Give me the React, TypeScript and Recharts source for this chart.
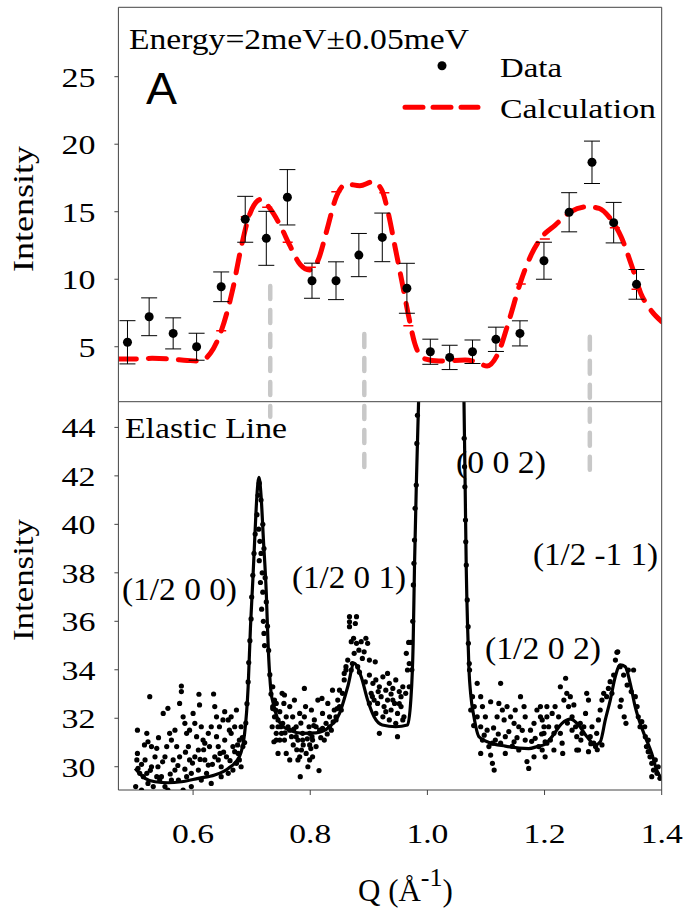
import React from "react";
import { ComposedChart, Line, Scatter, XAxis, YAxis, ErrorBar, ReferenceLine } from "recharts";

const W = 688;
const H = 908;
const PLOT_L = 118.4;
const PLOT_R = 661.7;
const TOP_Y = 7.3;
const SPLIT_Y = 401.7;
const BOT_Y = 790;
const SERIF = '"Liberation Serif", "Times New Roman", Times, serif';
const SANS = '"Liberation Sans", Arial, sans-serif';
const AXIS = "#444";

// axes
const qDomain = [0.4725, 1.4];
const qTicks = [0.6, 0.8, 1.0, 1.2, 1.4];
const topDomain = [0.93, 30.14];
const topTicks = [5, 10, 15, 20, 25];
const bottomDomain = [29.04, 45.06];
const bottomTicks = [30, 32, 34, 36, 38, 40, 42, 44];

// panel A: 2 meV cut, measured points
const cutQ = [0.488, 0.525, 0.566, 0.606, 0.648, 0.689, 0.725, 0.761, 0.803, 0.844, 0.883, 0.923, 0.965,
  1.005, 1.038, 1.077, 1.117, 1.158, 1.199, 1.242, 1.281, 1.318, 1.357];
const cutI = [5.33, 7.22, 5.99, 5.0, 9.44, 14.44, 13.03, 16.07, 9.89, 9.89, 11.79, 13.1, 9.33,
  4.63, 4.21, 4.63, 5.55, 5.99, 11.37, 14.96, 18.66, 14.19, 9.62];
const cutErr = [1.6, 1.4, 1.15, 1.0, 1.1, 1.7, 2.0, 2.05, 1.3, 1.4, 1.6, 1.8, 1.85,
  0.93, 0.9, 0.87, 0.9, 0.93, 1.37, 1.45, 1.57, 1.5, 1.1];

// panel A: calculation
const calcQ = [0.4725, 0.5, 0.53, 0.56, 0.59, 0.61, 0.6295, 0.6486, 0.6674, 0.6823, 0.6973, 0.716, 0.731,
  0.7497, 0.7647, 0.7834, 0.7985, 0.8135, 0.8285, 0.8435, 0.8622, 0.8847, 0.9072, 0.9222, 0.9333,
  0.9447, 0.956, 0.967, 0.9784, 0.9934, 1.0197, 1.0646, 1.0833, 1.102, 1.1207, 1.1396, 1.1583,
  1.177, 1.1958, 1.2182, 1.2445, 1.2745, 1.2932, 1.312, 1.3307, 1.3494, 1.3644, 1.3794, 1.4];
const calcI = [4.1, 4.09, 4.14, 4.09, 3.99, 3.94, 4.51, 6.24, 9.2, 12.41, 14.88, 15.92, 15.25,
  13.9, 12.54, 11.06, 10.68, 11.42, 13.65, 15.99, 17.05, 16.93, 17.22, 16.6, 14.88,
  12.41, 9.94, 7.47, 5.25, 4.14, 3.94, 4.01, 3.89, 3.57, 4.51, 6.98, 9.69,
  11.79, 13.14, 14.01, 15.0, 15.37, 15.25, 14.51, 13.14, 10.92, 8.95, 7.84, 6.85];
const calcMarkQ = [0.648, 0.69, 0.7265, 0.7615, 0.801, 0.8445, 0.9265, 0.9675, 1.1594, 1.2005, 1.32, 1.357];
const calcMarkI = [6.19, 14.63, 15.33, 12.73, 10.88, 16.48, 16.41, 6.56, 9.64, 12.98, 13.81, 9.25];

// Bragg positions (gray dashes), extent in panel-A units
const peakQ = [0.7317, 0.8923, 1.2773];
const peakTop = [9.5, 5.94, 5.74];
const peakBottom = [-0.19, -4.0, -4.19];

// elastic line fit
const fitQ = [0.501, 0.518, 0.535, 0.557, 0.58, 0.609, 0.637, 0.66, 0.679, 0.688, 0.694, 0.698, 0.702,
  0.706, 0.709, 0.7125, 0.716, 0.72, 0.725, 0.728, 0.733, 0.737, 0.744, 0.752, 0.765, 0.787, 0.81,
  0.833, 0.85, 0.864, 0.875, 0.887, 0.898, 0.909, 0.923, 0.946, 0.966, 0.9717, 0.9757, 0.978,
  0.9815, 0.985, 0.995, 1.024, 1.053, 1.0625, 1.0645, 1.0664, 1.069, 1.071, 1.0738, 1.0795, 1.088,
  1.105, 1.133, 1.173, 1.19, 1.1986, 1.2128, 1.2298, 1.2441, 1.2582, 1.2724, 1.2866, 1.2951, 1.3037,
  1.3122, 1.3207, 1.3292, 1.3377, 1.3462, 1.3547, 1.3632, 1.3717, 1.383, 1.3915, 1.3973];
const fitI = [29.93, 29.52, 29.38, 29.34, 29.38, 29.52, 29.66, 29.93, 30.41, 31.38, 33.3, 35.78, 37.7,
  39.8, 41.2, 41.94, 41.2, 39.4, 37.15, 35.09, 33.1, 32.6, 32.0, 31.7, 31.5, 31.38, 31.4,
  31.65, 32.2, 33.3, 34.27, 33.71, 32.75, 32.06, 31.72, 31.65, 31.72, 32.75, 35.09, 38.3,
  42.0, 45.1, 55, 66, 55, 45.0, 41.5, 38.1, 35.5, 34.0, 33.03, 32.06, 31.24,
  31.0, 30.85, 30.75, 30.85, 30.9, 31.24, 31.79, 31.96, 31.72, 31.24, 30.9, 31.03, 31.93,
  32.75, 33.71, 34.2, 34.13, 33.44, 32.48, 31.79, 31.24, 30.55, 29.86, 29.59];

// elastic line data points [Q, I]
const elasticLow = [
  [0.505, 31.51], [0.526, 32.89], [0.505, 30.55], [0.504, 30.28], [0.509, 29.73], [0.502, 29.18], [0.515, 29.59],
  [0.521, 31.38], [0.523, 31.03], [0.518, 30.28], [0.529, 30.0], [0.535, 30.41], [0.538, 30.76], [0.54, 30.0],
  [0.546, 29.59], [0.552, 29.18], [0.549, 32.2], [0.557, 32.41], [0.56, 31.38], [0.563, 31.1], [0.566, 30.28],
  [0.569, 29.86], [0.575, 29.45], [0.577, 32.61], [0.58, 33.33], [0.58, 33.1], [0.583, 32.06], [0.586, 31.79],
  [0.589, 31.38], [0.592, 30.83], [0.594, 30.28], [0.597, 29.73], [0.6, 32.2], [0.603, 31.79], [0.606, 31.24],
  [0.609, 30.69], [0.611, 32.55], [0.61, 32.99], [0.614, 31.65], [0.617, 31.1], [0.62, 30.28], [0.623, 29.73],
  [0.626, 31.38], [0.628, 30.83], [0.631, 31.65], [0.635, 33.0], [0.637, 32.48], [0.637, 30.41], [0.64, 31.24],
  [0.643, 30.83], [0.645, 31.65], [0.648, 30.0], [0.651, 31.93], [0.654, 31.1], [0.66, 31.93], [0.662, 31.51],
  [0.665, 32.06], [0.668, 30.83], [0.671, 31.65], [0.674, 30.14], [0.677, 30.55], [0.679, 31.1], [0.682, 30.0],
  [0.685, 30.83], [0.552, 30.41], [0.543, 29.45], [0.532, 29.18], [0.555, 30.83], [0.572, 30.83], [0.523, 29.31],
  [0.512, 29.04], [0.557, 29.04], [0.583, 29.04], [0.597, 29.18], [0.614, 29.45], [0.631, 29.31], [0.648, 29.59],
  [0.66, 29.73], [0.668, 29.86], [0.506, 29.93], [0.521, 29.73], [0.538, 29.59], [0.563, 29.45], [0.589, 29.59],
  [0.609, 29.86], [0.626, 30.07], [0.643, 30.28], [0.657, 30.41], [0.671, 30.62], [0.679, 30.28], [0.62, 30.97],
  [0.603, 30.41], [0.577, 30.41], [0.529, 30.83], [0.569, 31.51], [0.594, 31.51], [0.64, 32.06], [0.654, 32.27],
  [0.665, 31.38], [0.674, 32.34], [0.682, 31.65], [0.512, 30.1], [0.527, 29.85], [0.548, 30.2], [0.561, 29.7],
  [0.574, 30.05], [0.586, 29.9], [0.599, 30.15], [0.612, 30.3], [0.633, 30.1], [0.652, 30.6], [0.663, 30.25],
  [0.676, 30.9], [0.684, 31.2], [0.517, 30.9], [0.541, 31.2], [0.587, 30.6], [0.618, 30.7], [0.646, 30.55],
];
const elasticPeak1 = [
  [0.688, 31.0], [0.69, 31.8], [0.692, 32.6], [0.694, 33.5], [0.695, 34.3], [0.697, 35.2], [0.699, 36.1],
  [0.7, 37.0], [0.702, 37.9], [0.704, 38.8], [0.706, 39.6], [0.709, 40.4], [0.711, 41.2], [0.713, 41.7],
  [0.712, 39.8], [0.714, 39.3], [0.716, 38.8], [0.713, 38.5], [0.718, 38.0], [0.715, 37.6], [0.719, 37.2],
  [0.717, 36.5], [0.72, 36.0], [0.721, 35.5], [0.722, 35.0], [0.716, 41.0], [0.719, 40.0], [0.721, 39.0],
  [0.723, 37.8], [0.725, 36.8], [0.727, 35.8], [0.729, 34.8], [0.731, 33.8], [0.733, 33.0], [0.736, 32.4],
  [0.736, 33.3], [0.739, 32.75], [0.741, 32.34], [0.745, 31.93], [0.742, 31.38], [0.75, 31.65], [0.752, 33.03],
  [0.755, 32.61], [0.738, 31.03], [0.748, 31.1],
];
const elasticMid = [
  [0.736, 32.48], [0.739, 32.06], [0.735, 31.65], [0.742, 32.61], [0.745, 31.65], [0.748, 32.27], [0.751, 31.38],
  [0.756, 32.96], [0.759, 32.06], [0.756, 31.1], [0.762, 31.65], [0.765, 32.48], [0.768, 31.24], [0.77, 32.06],
  [0.771, 30.9], [0.773, 32.75], [0.776, 31.65], [0.779, 31.1], [0.782, 32.2], [0.783, 29.59], [0.785, 30.69],
  [0.787, 31.38], [0.79, 33.23], [0.792, 32.48], [0.793, 30.55], [0.796, 30.0], [0.798, 31.65], [0.799, 30.9],
  [0.802, 32.34], [0.803, 31.24], [0.804, 30.41], [0.807, 31.93], [0.81, 30.83], [0.815, 29.84], [0.816, 31.51],
  [0.82, 32.82], [0.821, 32.2], [0.824, 31.1], [0.827, 31.79], [0.83, 32.61], [0.833, 32.06], [0.836, 31.51],
  [0.838, 33.16], [0.841, 32.34], [0.844, 31.93], [0.847, 32.75], [0.85, 33.16], [0.853, 32.34], [0.855, 33.03],
  [0.858, 33.58], [0.861, 33.99], [0.753, 31.79], [0.765, 31.51], [0.776, 31.24], [0.787, 31.1], [0.799, 31.38],
  [0.81, 31.65], [0.821, 31.58], [0.833, 31.65], [0.844, 32.06], [0.85, 32.48], [0.742, 31.1], [0.745, 30.55],
  [0.759, 30.55], [0.782, 30.41], [0.804, 31.1], [0.79, 32.06], [0.813, 32.75], [0.765, 30.28], [0.799, 30.28],
  [0.779, 30.28], [0.757, 31.4], [0.772, 31.55], [0.784, 31.8], [0.795, 31.15], [0.806, 31.7], [0.818, 31.2],
  [0.829, 31.35], [0.839, 31.85], [0.846, 32.4], [0.788, 30.9], [0.801, 30.75], [0.777, 30.7],
];
const elasticPeak2 = [
  [0.867, 36.19], [0.879, 36.19], [0.867, 35.98], [0.877, 35.91], [0.867, 35.78], [0.874, 35.3], [0.87, 35.16],
  [0.879, 35.09], [0.887, 35.16], [0.895, 35.3], [0.898, 35.09], [0.883, 34.81], [0.892, 34.74], [0.875, 34.68],
  [0.889, 34.47], [0.901, 34.4], [0.911, 34.33], [0.864, 34.4], [0.861, 34.13], [0.872, 34.26], [0.881, 34.13],
  [0.858, 33.85], [0.87, 33.99], [0.901, 33.78], [0.907, 33.44], [0.912, 33.58], [0.918, 33.3], [0.924, 33.71],
  [0.929, 33.16], [0.932, 33.85], [0.935, 33.44], [0.941, 33.23], [0.946, 33.58], [0.952, 33.1], [0.958, 33.3],
  [0.963, 33.03], [0.904, 33.03], [0.909, 32.75], [0.915, 32.61], [0.921, 32.89], [0.926, 32.48], [0.932, 32.75],
  [0.938, 32.34], [0.944, 32.61], [0.949, 32.2], [0.955, 32.48], [0.96, 32.06], [0.912, 32.2], [0.924, 32.06],
  [0.935, 31.93], [0.946, 31.79], [0.958, 31.93], [0.918, 31.38], [0.949, 31.24], [0.901, 32.61], [0.929, 32.27],
  [0.941, 32.75], [0.955, 32.89], [0.966, 33.99], [0.964, 34.68], [0.968, 35.13], [0.969, 34.26], [0.972, 35.13],
  [0.969, 33.3], [0.884, 33.9], [0.894, 33.5], [0.906, 32.9], [0.916, 33.1], [0.938, 33.0], [0.952, 32.6],
];
const elastic002 = [
  [0.9735, 34.0], [0.975, 36.0], [0.976, 37.5], [0.977, 38.39], [0.978, 39.35], [0.979, 40.66], [0.981, 41.62],
  [0.982, 43.34], [0.983, 44.5], [1.0628, 43.55], [1.0635, 42.38], [1.064, 41.55], [1.065, 40.18], [1.0655, 39.28],
  [1.0664, 38.32], [1.068, 36.88], [1.0695, 35.78], [1.07, 35.09], [1.0715, 34.26], [1.072, 33.99],
];
const elasticHigh = [
  [1.085, 33.44], [1.077, 32.89], [1.08, 32.48], [1.074, 32.34], [1.091, 32.89], [1.094, 32.48], [1.099, 32.06],
  [1.085, 32.06], [1.091, 31.65], [1.102, 31.51], [1.108, 32.68], [1.125, 33.44], [1.122, 32.61], [1.128, 32.34],
  [1.119, 32.06], [1.131, 31.93], [1.136, 32.48], [1.142, 32.06], [1.148, 31.79], [1.15, 32.34], [1.156, 31.65],
  [1.159, 32.89], [1.165, 32.48], [1.167, 32.06], [1.176, 31.51], [1.182, 31.79], [1.187, 32.34], [1.193, 32.06],
  [1.199, 31.65], [1.204, 32.48], [1.094, 31.1], [1.105, 30.83], [1.116, 31.1], [1.133, 31.24], [1.148, 31.03],
  [1.167, 31.1], [1.184, 31.17], [1.204, 30.97], [1.091, 30.55], [1.108, 30.48], [1.111, 30.14], [1.114, 29.86],
  [1.133, 30.55], [1.17, 30.21], [1.173, 29.93], [1.182, 30.41], [1.201, 30.41], [1.111, 30.97], [1.125, 30.97],
  [1.156, 30.69], [1.19, 30.83], [1.079, 31.7], [1.097, 31.3], [1.113, 31.6], [1.139, 31.45], [1.153, 31.2],
  [1.162, 31.5], [1.178, 31.05], [1.195, 31.35], [1.121, 31.35], [1.145, 30.85],
];
const elasticHigh2 = [
  [1.193, 32.48], [1.196, 31.93], [1.199, 31.38], [1.201, 31.03], [1.196, 30.69], [1.204, 32.06], [1.207, 31.65],
  [1.21, 31.1], [1.213, 32.2], [1.216, 30.69], [1.218, 32.48], [1.221, 31.65], [1.224, 32.06], [1.227, 33.3],
  [1.23, 30.97], [1.231, 30.55], [1.233, 32.75], [1.236, 33.65], [1.238, 33.03], [1.241, 32.48], [1.244, 32.89],
  [1.247, 32.06], [1.25, 32.55], [1.253, 31.65], [1.255, 31.24], [1.258, 30.69], [1.261, 31.79], [1.264, 31.38],
  [1.27, 32.2], [1.272, 33.03], [1.275, 32.75], [1.278, 31.24], [1.281, 31.65], [1.284, 30.97], [1.289, 31.38],
  [1.292, 31.93], [1.295, 32.34], [1.298, 32.75], [1.301, 33.03], [1.227, 31.38], [1.247, 31.51], [1.267, 31.65],
  [1.287, 30.83], [1.255, 30.69], [1.275, 30.62], [1.298, 30.9], [1.216, 31.38], [1.239, 31.8], [1.262, 31.1],
  [1.279, 30.95], [1.29, 30.7],
];
const elasticEnd = [
  [1.325, 34.74], [1.3236, 34.72], [1.321, 34.4], [1.329, 34.13], [1.318, 33.78], [1.312, 33.51], [1.309, 33.23],
  [1.306, 32.89], [1.315, 33.03], [1.335, 33.78], [1.341, 33.37], [1.343, 33.99], [1.348, 33.1], [1.352, 33.99],
  [1.331, 32.75], [1.336, 32.06], [1.339, 31.79], [1.329, 32.48], [1.355, 32.89], [1.358, 32.48], [1.36, 32.06],
  [1.363, 31.65], [1.366, 31.86], [1.371, 31.65], [1.372, 31.24], [1.374, 30.83], [1.377, 30.62], [1.38, 30.41],
  [1.383, 30.14], [1.386, 29.86], [1.389, 30.28], [1.392, 29.73], [1.394, 30.0], [1.397, 29.52], [1.383, 29.59],
  [1.377, 31.1],
];

const cutRows = cutQ.map((q, i) => ({ q, v: cutI[i], e: cutErr[i] }));
const calcRows = calcQ.map((q, i) => ({ q, v: calcI[i] }));
const markRows = calcMarkQ.map((q, i) => ({ q, v: calcMarkI[i] }));
const fitRows = fitQ.map((q, i) => ({ q, v: fitI[i] }));
const elasticRows = [...elasticLow, ...elasticPeak1, ...elasticMid, ...elasticPeak2, ...elastic002,
  ...elasticHigh, ...elasticHigh2, ...elasticEnd].map(([q, v]) => ({ q, v }));

const serifStyle: React.CSSProperties = { fontFamily: SERIF };

const YTick = ({ x, y, payload }: any) => {
  const s = String(payload.value);
  return (
    <text x={x} y={y} dy="0.355em" textAnchor="end" style={serifStyle} fontSize={28} fill="#000"
      textLength={s.length * 17} lengthAdjust="spacingAndGlyphs">{s}</text>
  );
};

const XTick = ({ x, y, payload }: any) => (
  <text x={x} y={y} dy="0.71em" textAnchor="middle" style={serifStyle} fontSize={28} fill="#000"
    textLength={42} lengthAdjust="spacingAndGlyphs">{Number(payload.value).toFixed(1)}</text>
);

const Label = ({ x, y, w, size = 30, family = SERIF, children }: any) => (
  <text x={x} y={y} fontSize={size} style={{ fontFamily: family }} fill="#000" textLength={w}
    lengthAdjust="spacingAndGlyphs">
    {children}
  </text>
);

const dot = (r: number) => (p: any) => <circle cx={p.cx} cy={p.cy} r={r} fill="#000" />;
const dash = (p: any) => <line x1={p.cx - 5} x2={p.cx + 5} y1={p.cy} y2={p.cy} stroke="#ff0000" strokeWidth={1.5} />;

const layer: React.CSSProperties = { position: "absolute", left: 0, top: 0 };

export default function App() {
  return (
    <div style={{ position: "absolute", left: 0, top: 0, width: W, height: H, background: "#fff", fontFamily: SERIF }}>
      {/* panel A: inelastic cut */}
      <div style={layer}>
        <ComposedChart width={W} height={H} margin={{ top: TOP_Y, right: W - PLOT_R, bottom: H - SPLIT_Y, left: 0 }}>
          <XAxis type="number" dataKey="q" domain={qDomain} allowDataOverflow hide />
          <YAxis type="number" domain={topDomain} ticks={topTicks} allowDataOverflow width={PLOT_L}
            tickSize={4} tickMargin={19} tick={<YTick />} stroke={AXIS} />
          {peakQ.map((q, i) => (
            <ReferenceLine key={q} segment={[{ x: q, y: peakTop[i] }, { x: q, y: peakBottom[i] }]}
              stroke="#c8c8c8" strokeWidth={4.5} strokeDasharray="13 11" strokeLinecap="round" ifOverflow="visible" />
          ))}
          <Line data={calcRows} dataKey="v" type="monotone" stroke="#ff0000" strokeWidth={5}
            strokeDasharray="18 12" strokeLinecap="round" dot={false} isAnimationActive={false} />
          <Scatter data={markRows} dataKey="v" shape={dash} isAnimationActive={false} />
          <Scatter data={cutRows} dataKey="v" shape={dot(4.5)} isAnimationActive={false}>
            <ErrorBar dataKey="e" direction="y" width={8} stroke="#000" strokeWidth={1} />
          </Scatter>
        </ComposedChart>
      </div>

      {/* elastic line */}
      <div style={layer}>
        <ComposedChart width={W} height={H} margin={{ top: SPLIT_Y, right: W - PLOT_R, bottom: 0, left: 0 }}>
          <XAxis type="number" dataKey="q" domain={qDomain} ticks={qTicks} interval={0} allowDataOverflow
            height={H - BOT_Y} tickSize={5} tickMargin={28} tick={<XTick />} stroke={AXIS} />
          <YAxis type="number" domain={bottomDomain} ticks={bottomTicks} allowDataOverflow width={PLOT_L}
            tickSize={4} tickMargin={19} tick={<YTick />} stroke={AXIS} />
          <Scatter data={elasticRows} dataKey="v" shape={dot(2.6)} isAnimationActive={false} />
          <Line data={fitRows} dataKey="v" type="monotone" stroke="#000" strokeWidth={3.2}
            dot={false} isAnimationActive={false} />
        </ComposedChart>
      </div>

      {/* frame, titles, legend, annotations */}
      <svg width={W} height={H} style={{ ...layer, pointerEvents: "none" }}>
        <line x1={PLOT_L} y1={TOP_Y} x2={PLOT_R} y2={TOP_Y} stroke={AXIS} />
        <line x1={PLOT_R} y1={TOP_Y} x2={PLOT_R} y2={BOT_Y} stroke={AXIS} />
        <line x1={PLOT_L} y1={SPLIT_Y} x2={PLOT_R} y2={SPLIT_Y} stroke={AXIS} />

        <Label x={129} y={49} w={340}>Energy=2meV±0.05meV</Label>
        <Label x={146} y={104} w={31} size={44} family={SANS}>A</Label>

        <circle cx={442} cy={65.7} r={4.5} fill="#000" />
        <Label x={500} y={77} w={62} size={28}>Data</Label>
        <line x1={405} y1={107.3} x2={478} y2={107.3} stroke="#ff0000" strokeWidth={5}
          strokeDasharray="18 10" strokeLinecap="round" />
        <Label x={500} y={118} w={156} size={28}>Calculation</Label>

        <Label x={125} y={438} w={162}>Elastic Line</Label>
        <Label x={122} y={600} w={115} size={31}>(1/2 0 0)</Label>
        <Label x={292} y={588} w={114} size={31}>(1/2 0 1)</Label>
        <Label x={456} y={473} w={90} size={31}>(0 0 2)</Label>
        <Label x={533} y={565} w={125} size={31}>(1/2 -1 1)</Label>
        <Label x={485} y={659} w={116} size={31}>(1/2 0 2)</Label>

        <text transform="translate(33 209) rotate(-90)" textAnchor="middle" style={serifStyle} fontSize={30}
          textLength={126} lengthAdjust="spacingAndGlyphs">Intensity</text>
        <text transform="translate(33 580) rotate(-90)" textAnchor="middle" style={serifStyle} fontSize={30}
          textLength={122} lengthAdjust="spacingAndGlyphs">Intensity</text>

        <text x={358} y={901} style={serifStyle} fontSize={31}>
          Q (Å<tspan dy={-15} fontSize={26}>-1</tspan><tspan dy={15}>)</tspan>
        </text>
      </svg>
    </div>
  );
}
